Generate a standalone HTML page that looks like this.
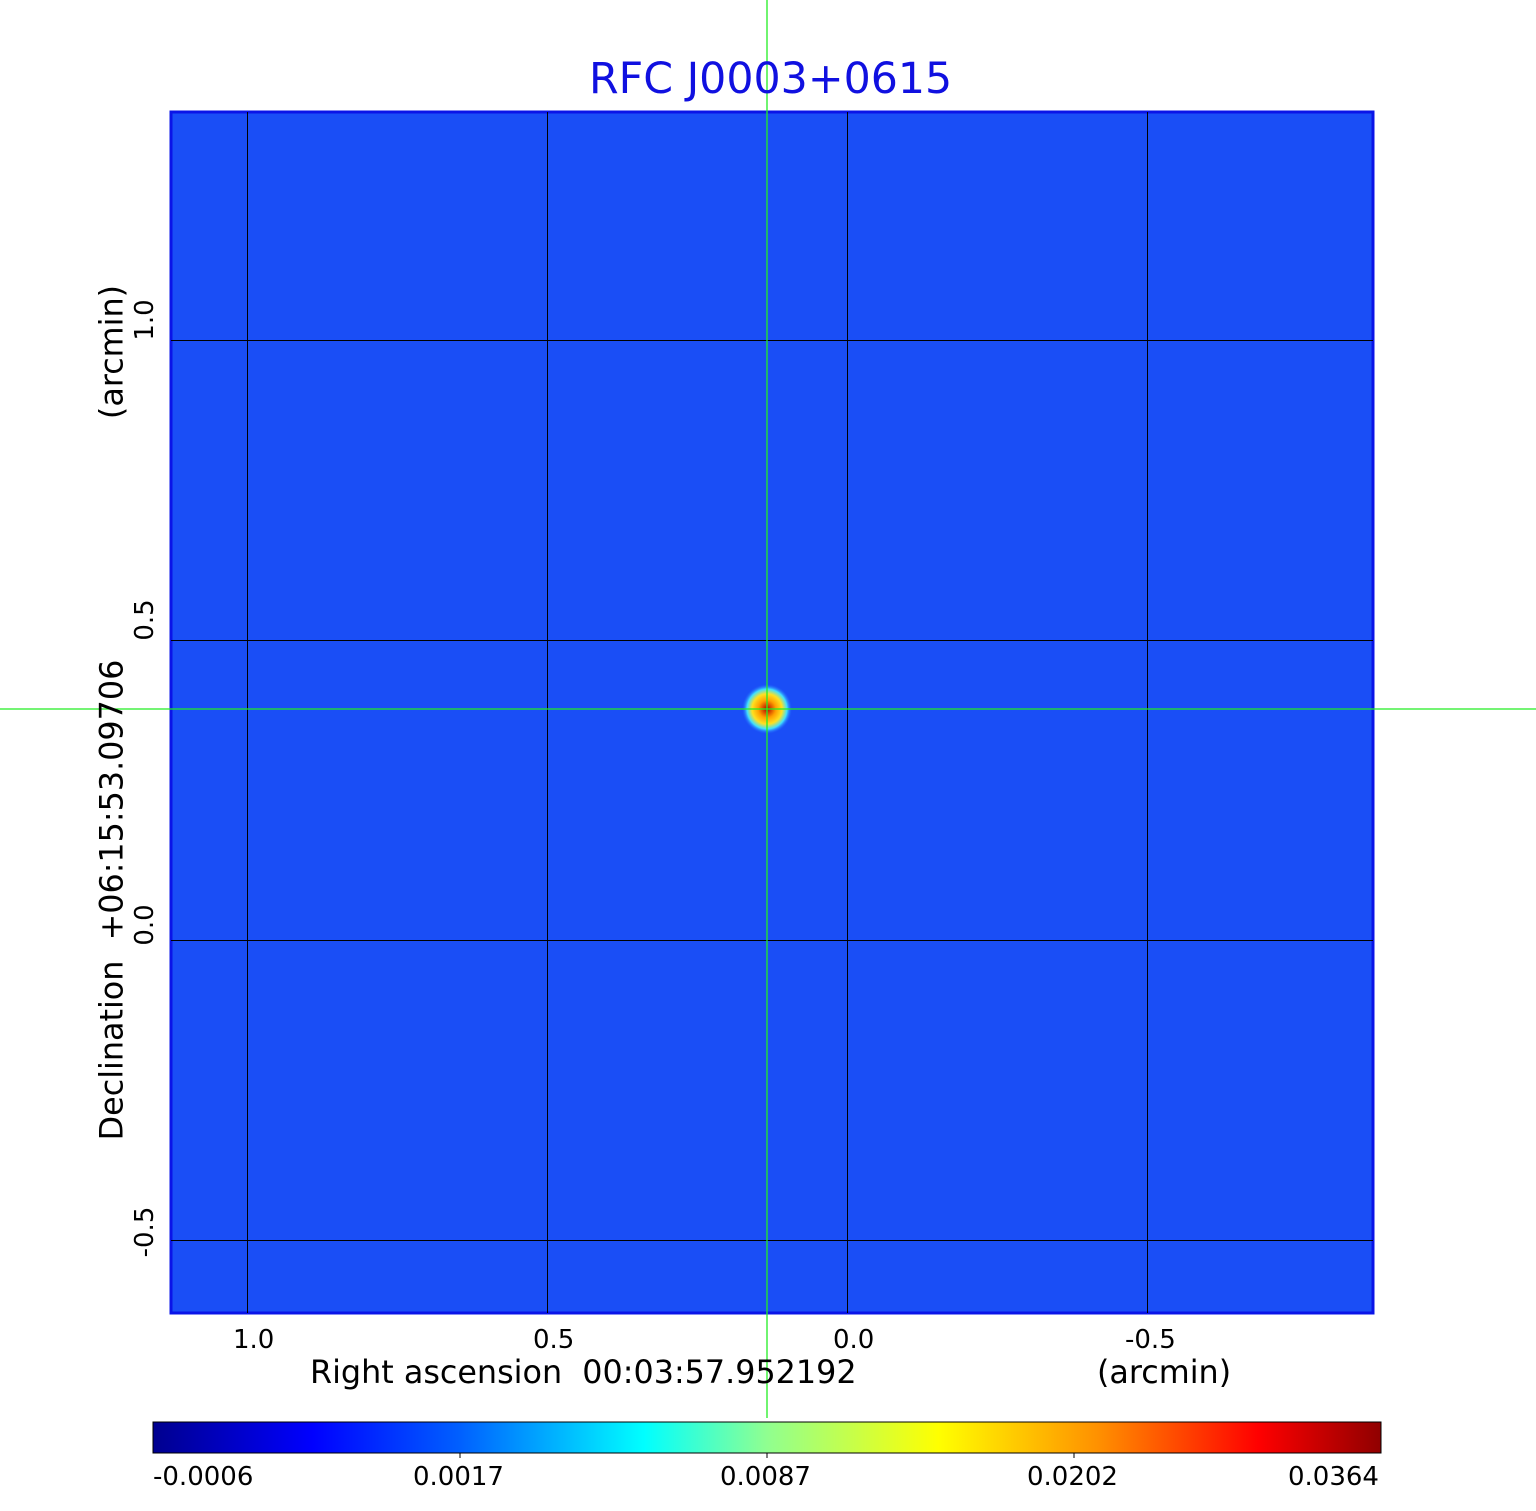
<!DOCTYPE html>
<html><head><style>
body{margin:0;width:1536px;height:1511px;background:#fff;position:relative;overflow:hidden;font-family:"DejaVu Sans","Liberation Sans",sans-serif}
.t{position:absolute;white-space:nowrap}
</style></head><body>
<svg width="1536" height="1511" style="position:absolute;left:0;top:0">
<defs>
<linearGradient id="cb" x1="0" x2="1" y1="0" y2="0">
<stop offset="0" stop-color="#00008f"/>
<stop offset="0.13" stop-color="#0000ff"/>
<stop offset="0.25" stop-color="#0060ff"/>
<stop offset="0.4" stop-color="#00ffff"/>
<stop offset="0.5" stop-color="#90ff90"/>
<stop offset="0.64" stop-color="#ffff00"/>
<stop offset="0.77" stop-color="#ff9000"/>
<stop offset="0.9" stop-color="#ff0000"/>
<stop offset="1" stop-color="#900000"/>
</linearGradient>
<radialGradient id="src" cx="0.5" cy="0.5" r="0.5">
<stop offset="0" stop-color="#b00000"/>
<stop offset="0.35" stop-color="#ffa000"/>
<stop offset="0.6" stop-color="#ffe020"/>
<stop offset="0.8" stop-color="#40e0ff"/>
<stop offset="1" stop-color="#2060ff" stop-opacity="0"/>
</radialGradient>
</defs>
<rect x="171" y="112" width="1202" height="1201" fill="#1a4ef6" stroke="#0a14e8" stroke-width="3"/>
<rect x="742" y="684" width="50" height="50" fill="url(#src)"/>
<g stroke="#000" stroke-width="1">
<line x1="247.5" y1="112" x2="247.5" y2="1313"/>
<line x1="547.5" y1="112" x2="547.5" y2="1313"/>
<line x1="847.5" y1="112" x2="847.5" y2="1313"/>
<line x1="1147.5" y1="112" x2="1147.5" y2="1313"/>
<line x1="171" y1="340.5" x2="1373" y2="340.5"/>
<line x1="171" y1="640.5" x2="1373" y2="640.5"/>
<line x1="171" y1="940.5" x2="1373" y2="940.5"/>
<line x1="171" y1="1240.5" x2="1373" y2="1240.5"/>
</g>
<rect x="153" y="1422" width="1228" height="31" fill="url(#cb)" stroke="#000" stroke-width="1"/>
<g stroke="#000"><line x1="460" y1="1453" x2="460" y2="1458"/><line x1="767" y1="1453" x2="767" y2="1458"/><line x1="1074" y1="1453" x2="1074" y2="1458"/></g>
<g stroke="#22ee22" stroke-width="1.3">
<line x1="767" y1="0" x2="767" y2="1418"/>
<line x1="0" y1="709" x2="1536" y2="709"/>
</g>
</svg>
<div class="t" style="left:589px;top:54px;font-size:42.7px;color:#1010e0">RFC J0003+0615</div>
<div class="t" style="left:233px;top:1325px;font-size:26px">1.0</div>
<div class="t" style="left:533px;top:1325px;font-size:26px">0.5</div>
<div class="t" style="left:833px;top:1325px;font-size:26px">0.0</div>
<div class="t" style="left:1125px;top:1325px;font-size:26px">-0.5</div>
<div class="t" style="left:310px;top:1354px;font-size:31.8px">Right ascension&nbsp; 00:03:57.952192</div>
<div class="t" style="left:1097px;top:1354px;font-size:31.8px">(arcmin)</div>
<div class="t" style="left:153px;top:1462px;font-size:26px">-0.0006</div>
<div class="t" style="left:413px;top:1462px;font-size:26px">0.0017</div>
<div class="t" style="left:720px;top:1462px;font-size:26px">0.0087</div>
<div class="t" style="left:1027px;top:1462px;font-size:26px">0.0202</div>
<div class="t" style="left:1288px;top:1462px;font-size:26px">0.0364</div>
<div class="t" style="left:145px;top:320px;font-size:26px;transform:translate(-50%,-50%) rotate(-90deg)">1.0</div>
<div class="t" style="left:145px;top:620px;font-size:26px;transform:translate(-50%,-50%) rotate(-90deg)">0.5</div>
<div class="t" style="left:145px;top:925px;font-size:26px;transform:translate(-50%,-50%) rotate(-90deg)">0.0</div>
<div class="t" style="left:145px;top:1232px;font-size:26px;transform:translate(-50%,-50%) rotate(-90deg)">-0.5</div>
<div class="t" style="left:112px;top:900px;font-size:31.8px;transform:translate(-50%,-50%) rotate(-90deg)">Declination&nbsp; +06:15:53.09706</div>
<div class="t" style="left:112px;top:352px;font-size:31.8px;transform:translate(-50%,-50%) rotate(-90deg)">(arcmin)</div>
</body></html>
